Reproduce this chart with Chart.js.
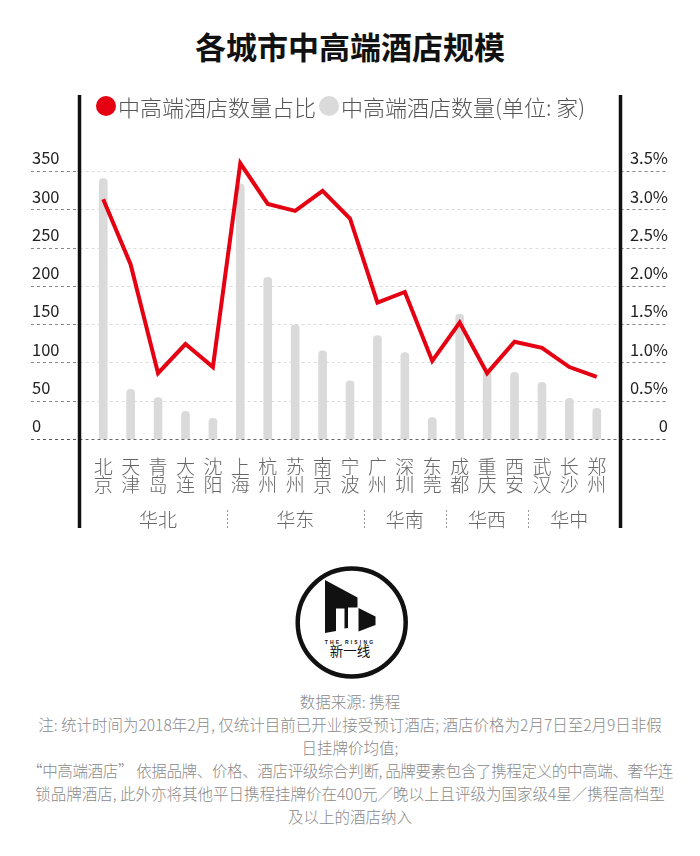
<!DOCTYPE html>
<html>
<head>
<meta charset="utf-8">
<script src="https://cdn.jsdelivr.net/npm/chart.js@4.4.1/dist/chart.umd.min.js"></script>
<style>
html,body{margin:0;padding:0;background:#fff;}
body{width:700px;height:856px;position:relative;overflow:hidden;font-family:"Noto Sans CJK SC","Noto Sans",sans-serif;}
#title{position:absolute;top:26px;left:0;width:700px;text-align:center;font-size:31px;font-weight:700;line-height:40px;color:#111;}
#chartCanvas{position:absolute;left:0;top:0;}
#legend{position:absolute;top:93px;left:96px;height:26px;display:flex;align-items:center;font-size:22px;font-weight:300;color:#555;white-space:nowrap;}
#legend .dot{display:inline-block;width:20px;height:20px;border-radius:50%;margin-right:2px;flex:none;}
#legend .item{display:flex;align-items:center;margin-right:3px;}
#logo{position:absolute;left:290px;top:560px;}
#notes{position:absolute;left:0;top:690px;width:700px;text-align:center;font-size:15.5px;line-height:23px;color:#8a8a8a;white-space:nowrap;font-weight:300;}
#notes .tight{letter-spacing:-0.35px;}
</style>
</head>
<body>
<div id="title">各城市中高端酒店规模</div>
<canvas id="chartCanvas" width="700" height="545"></canvas>
<div id="legend"></div>
<svg id="logo" width="125" height="125" viewBox="290 560 125 125">
  <circle cx="351.7" cy="622.5" r="54" fill="none" stroke="#111" stroke-width="4.5"/>
  <polygon fill="#111" points="325,580 357.5,597.5 357.5,607.5 348,607.5 348,628 344.5,628.5 344.5,608.5 336,608.5 336,631 325,633"/>
  <polygon fill="#111" points="358.5,608 375.5,616.5 375.5,625 358.5,631.5"/>
  <text x="350" y="643.5" font-size="5" font-weight="700" text-anchor="middle" letter-spacing="2.2" fill="#111" font-family="Liberation Sans, sans-serif">THE RISING</text>
  <text x="350" y="656" font-size="13.5" text-anchor="middle" fill="#111" font-family="Noto Sans CJK SC, sans-serif">新一线</text>
</svg>
<div id="notes">数据来源: 携程<br>注: 统计时间为2018年2月, 仅统计目前已开业接受预订酒店; 酒店价格为2月7日至2月9日非假<br>日挂牌价均值;<br><span class="tight">“中高端酒店” 依据品牌、价格、酒店评级综合判断, 品牌要素包含了携程定义的中高端、奢华连</span><br>锁品牌酒店, 此外亦将其他平日携程挂牌价在400元／晚以上且评级为国家级4星／携程高档型<br>及以上的酒店纳入</div>
<script>
// ---- data ----
const cities = ['北京','天津','青岛','大连','沈阳','上海','杭州','苏州','南京','宁波','广州','深圳','东莞','成都','重庆','西安','武汉','长沙','郑州'];
const hotelCounts = [340, 65, 54, 36, 27, 333, 211, 149, 115, 76, 135, 113, 28, 163, 88, 87, 74, 53, 40];
const hotelShares = [3.13, 2.28, 0.86, 1.24, 0.94, 3.60, 3.07, 2.98, 3.24, 2.88, 1.78, 1.92, 1.02, 1.52, 0.86, 1.27, 1.19, 0.94, 0.81];
const regions = ['华北','华东','华南','华西','华中'];
const regionSizes = [5, 5, 3, 3, 3];
const leftTickLabels = ['0','50','100','150','200','250','300','350'];
const rightTickLabels = ['0','0.5%','1.0%','1.5%','2.0%','2.5%','3.0%','3.5%'];
const seriesNames = ['中高端酒店数量占比','中高端酒店数量(单位: 家)'];
const seriesColors = ['#e50012','#dadada'];

// legend (HTML)
const lg = document.getElementById('legend');
seriesNames.forEach((n,i)=>{
  const it = document.createElement('span'); it.className='item';
  const d = document.createElement('span'); d.className='dot'; d.style.background = seriesColors[i];
  const t = document.createElement('span'); t.textContent = n;
  it.appendChild(d); it.appendChild(t); lg.appendChild(it);
});

const FONT = '"Noto Sans CJK SC","Noto Sans",sans-serif';

const decor = {
  id: 'decor',
  beforeDatasetsDraw(chart) {
    const {ctx, chartArea: ca, scales: {y}} = chart;
    ctx.save();
    ctx.lineWidth = 1;
    ctx.setLineDash([3, 3]);
    const seg = (x1, x2, py, c) => { ctx.strokeStyle = c; ctx.beginPath(); ctx.moveTo(x1, py); ctx.lineTo(x2, py); ctx.stroke(); };
    y.ticks.forEach(t => {
      const py = Math.round(y.getPixelForValue(t.value)) + 0.5;
      const outer = t.value === 0 ? '#555' : '#888';
      const inner = t.value === 0 ? '#666' : '#dcdcdc';
      seg(31, ca.left - 10, py, outer);
      seg(ca.left - 10, ca.right + 10, py, inner);
      seg(ca.right + 10, 668, py, outer);
    });
    ctx.restore();
  },
  afterDraw(chart) {
    const {ctx, chartArea: ca, scales: {x}} = chart;
    ctx.save();
    ctx.strokeStyle = '#111';
    ctx.lineWidth = 3.5;
    [ca.left - 10, ca.right + 10].forEach(px => {
      ctx.beginPath(); ctx.moveTo(px, 95); ctx.lineTo(px, 528); ctx.stroke();
    });
    ctx.font = '300 19px ' + FONT;
    ctx.fillStyle = '#666';
    ctx.textAlign = 'center';
    ctx.textBaseline = 'middle';
    let start = 0;
    regionSizes.forEach((n, i) => {
      const a = x.getPixelForValue(start), b = x.getPixelForValue(start + n - 1);
      ctx.fillText(regions[i], (a + b) / 2, 520);
      if (i < regionSizes.length - 1) {
        const sx = Math.round((b + x.getPixelForValue(start + n)) / 2) + 0.5;
        ctx.strokeStyle = '#999'; ctx.lineWidth = 1; ctx.setLineDash([2, 2]);
        ctx.beginPath(); ctx.moveTo(sx, 510); ctx.lineTo(sx, 529); ctx.stroke();
        ctx.setLineDash([]);
      }
      start += n;
    });
    ctx.restore();
  }
};

new Chart(document.getElementById('chartCanvas'), {
  type: 'bar',
  data: {
    labels: cities.map(c => c.split('')),
    datasets: [
      {
        type: 'line',
        label: seriesNames[0],
        data: hotelShares,
        yAxisID: 'y1',
        borderColor: seriesColors[0],
        backgroundColor: seriesColors[0],
        borderWidth: 4,
        pointRadius: 0,
        tension: 0,
        clip: false,
        order: 0
      },
      {
        type: 'bar',
        label: seriesNames[1],
        data: hotelCounts,
        yAxisID: 'y',
        backgroundColor: seriesColors[1],
        barThickness: 8,
        borderRadius: 4,
        borderSkipped: 'start',
        order: 1
      }
    ]
  },
  options: {
    responsive: false,
    animation: false,
    devicePixelRatio: 1,
    layout: { padding: { left: 32, right: 32, top: 171, bottom: 51 } },
    plugins: { legend: { display: false }, tooltip: { enabled: false } },
    scales: {
      x: {
        grid: { display: false, drawTicks: false },
        border: { display: false },
        ticks: {
          autoSkip: false, maxRotation: 0, minRotation: 0, padding: 19,
          color: '#666',
          font: { family: FONT, size: 19, weight: 300, lineHeight: 0.95 }
        },
        afterFit: s => { s.height = 55; }
      },
      y: {
        position: 'left',
        min: 0, max: 350,
        grid: { display: false, drawTicks: false },
        border: { display: false },
        ticks: {
          stepSize: 50, crossAlign: 'far', labelOffset: -13, padding: 0,
          color: '#222',
          font: { family: FONT, size: 16.5 },
          callback: (v, i) => leftTickLabels[i]
        },
        afterFit: s => { s.width = 57.5; }
      },
      y1: {
        position: 'right',
        min: 0, max: 3.5,
        grid: { display: false, drawTicks: false },
        border: { display: false },
        ticks: {
          stepSize: 0.5, crossAlign: 'far', labelOffset: -13, padding: 0,
          color: '#222',
          font: { family: FONT, size: 16.5 },
          callback: (v, i) => rightTickLabels[i]
        },
        afterFit: s => { s.width = 57.5; }
      }
    }
  },
  plugins: [decor]
});
</script>
</body>
</html>
